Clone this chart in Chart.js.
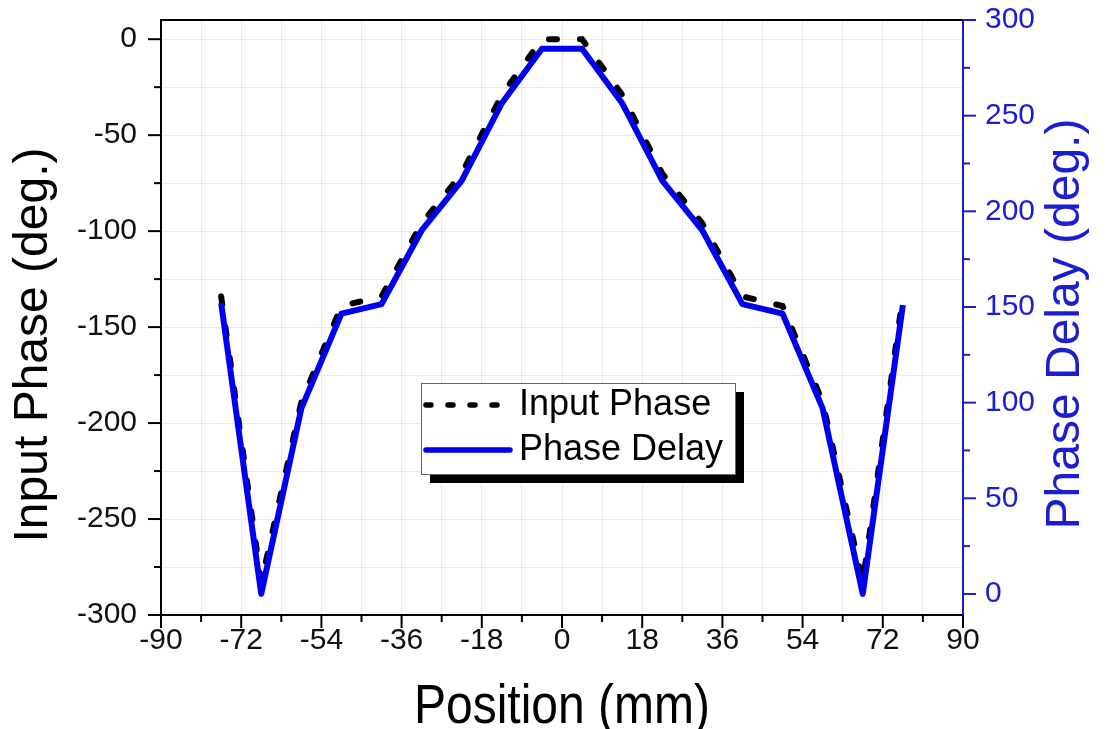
<!DOCTYPE html>
<html>
<head>
<meta charset="utf-8">
<title>Input Phase / Phase Delay</title>
<script src="https://cdn.jsdelivr.net/npm/chart.js@4.4.0/dist/chart.umd.min.js"></script>
<style>
  html, body { margin: 0; padding: 0; background: #fff; }
  #wrap { width: 1109px; height: 729px; }
</style>
</head>
<body>
<div id="wrap"><canvas id="phaseChart" width="1109" height="729"></canvas></div>
<script>
// Element positions across the aperture (mm)
const positions = [-76.5, -67.5, -58.5, -49.5, -40.5, -31.5, -22.5, -13.5, -4.5,
                   4.5, 13.5, 22.5, 31.5, 40.5, 49.5, 58.5, 67.5, 76.5];
// Input phase, left axis (deg.)
const inputPhase = [-134, -283, -189, -139, -134, -96, -70, -29, 0,
                    0, -29, -70, -96, -134, -139, -189, -283, -134];
// Phase delay, right axis (deg.)
const phaseDelay = [152, 0, 97, 146.5, 151.5, 190, 216, 256.5, 285,
                    285, 256.5, 216, 190, 151.5, 146.5, 97, 0, 151];

const xMajorTicks = [-90, -72, -54, -36, -18, 0, 18, 36, 54, 72, 90];
const xMinorTicks = [-81, -63, -45, -27, -9, 9, 27, 45, 63, 81];
const leftMajorTicks = [-300, -250, -200, -150, -100, -50, 0];
const leftMinorTicks = [-275, -225, -175, -125, -75, -25];
const rightMajorTicks = [0, 50, 100, 150, 200, 250, 300];
const rightMinorTicks = [25, 75, 125, 175, 225, 275];

const BLUE = '#0000f0';
const AXIS_BLUE = '#1c1cd2';
const FONT = '"Liberation Sans", Arial, sans-serif';

Chart.defaults.font.family = FONT;

function useTicks(list) {
    return function(scale) {
        scale.ticks = list.slice().sort((a, b) => a - b).map(v => ({ value: v }));
    };
}

// fixed axis width, no extra vertical padding from the labels
function fixWidth(w) {
    return function(scale) {
        scale.width = w;
        scale.paddingTop = 0;
        scale.paddingBottom = 0;
    };
}

function toPoints(values) {
    return positions.map((x, i) => ({ x: x, y: values[i] }));
}

// Tick marks outside the frame (major long, minor short) plus the top frame line
const tickMarks = {
    id: 'tickMarks',
    afterDraw(chart) {
        const { ctx, chartArea, scales } = chart;
        const line = (x1, y1, x2, y2) => {
            ctx.beginPath();
            ctx.moveTo(x1, y1);
            ctx.lineTo(x2, y2);
            ctx.stroke();
        };
        ctx.save();
        ctx.lineWidth = 2;
        ctx.strokeStyle = '#000';
        line(chartArea.left - 1, chartArea.top, chartArea.right, chartArea.top);
        xMajorTicks.forEach(v => {
            const x = scales.x.getPixelForValue(v);
            line(x, chartArea.bottom, x, chartArea.bottom + 13);
        });
        xMinorTicks.forEach(v => {
            const x = scales.x.getPixelForValue(v);
            line(x, chartArea.bottom, x, chartArea.bottom + 7);
        });
        leftMajorTicks.forEach(v => {
            const y = scales.y.getPixelForValue(v);
            line(chartArea.left, y, chartArea.left - 13, y);
        });
        leftMinorTicks.forEach(v => {
            const y = scales.y.getPixelForValue(v);
            line(chartArea.left, y, chartArea.left - 7, y);
        });
        ctx.strokeStyle = AXIS_BLUE;
        rightMajorTicks.forEach(v => {
            const y = scales.y1.getPixelForValue(v);
            line(chartArea.right, y, chartArea.right + 13, y);
        });
        rightMinorTicks.forEach(v => {
            const y = scales.y1.getPixelForValue(v);
            line(chartArea.right, y, chartArea.right + 7, y);
        });
        ctx.restore();
    }
};

// Axis titles (both vertical titles read bottom to top)
const axisTitles = {
    id: 'axisTitles',
    afterDraw(chart) {
        const { ctx, chartArea } = chart;
        ctx.save();
        ctx.font = '48px ' + FONT;
        ctx.textAlign = 'center';
        ctx.textBaseline = 'alphabetic';
        ctx.fillStyle = '#000';

        ctx.save();
        ctx.translate((chartArea.left + chartArea.right) / 2, chartArea.bottom + 108);
        ctx.scale(1, 1.15);
        ctx.fillText('Position (mm)', 0, 0);
        ctx.restore();

        ctx.save();
        ctx.translate(47, 345);
        ctx.rotate(-Math.PI / 2);
        ctx.fillText('Input Phase (deg.)', 0, 0);
        ctx.restore();

        ctx.save();
        ctx.fillStyle = AXIS_BLUE;
        ctx.translate(chartArea.right + 116, 324);
        ctx.rotate(-Math.PI / 2);
        ctx.fillText('Phase Delay (deg.)', 0, 0);
        ctx.restore();
        ctx.restore();
    }
};

// Boxed legend with a drop shadow
const boxLegend = {
    id: 'boxLegend',
    afterDraw(chart) {
        const { ctx } = chart;
        const bx = 421, by = 383, bw = 314, bh = 91, sh = 9;
        ctx.save();
        ctx.fillStyle = '#000';
        ctx.fillRect(bx + sh, by + sh, bw, bh);
        ctx.fillStyle = '#fff';
        ctx.fillRect(bx, by, bw, bh);
        ctx.strokeStyle = '#666';
        ctx.lineWidth = 1;
        ctx.strokeRect(bx + 0.5, by + 0.5, bw, bh);
        chart.data.datasets.forEach((ds, i) => {
            const y = by + 22 + i * 45;
            ctx.beginPath();
            ctx.setLineDash(ds.legendDash || []);
            ctx.lineCap = 'round';
            ctx.lineWidth = 5.5;
            ctx.strokeStyle = ds.borderColor;
            ctx.moveTo(bx + 5, y);
            ctx.lineTo(bx + 89, y);
            ctx.stroke();
            ctx.setLineDash([]);
            ctx.fillStyle = '#000';
            ctx.font = '36px ' + FONT;
            ctx.textAlign = 'left';
            ctx.textBaseline = 'middle';
            ctx.fillText(ds.label, bx + 98, y);
        });
        ctx.restore();
    }
};

new Chart(document.getElementById('phaseChart'), {
    type: 'line',
    data: {
        datasets: [{
            label: 'Input Phase',
            data: toPoints(inputPhase),
            yAxisID: 'y',
            order: 1,
            borderColor: '#000',
            borderWidth: 6,
            borderDash: [8, 23],
            borderCapStyle: 'round',
            legendDash: [5, 17],
            pointRadius: 0,
            tension: 0,
            fill: false
        }, {
            label: 'Phase Delay',
            data: toPoints(phaseDelay),
            yAxisID: 'y1',
            order: 0,
            borderColor: BLUE,
            borderWidth: 6,
            borderJoinStyle: 'round',
            pointRadius: 0,
            tension: 0,
            fill: false
        }]
    },
    options: {
        responsive: false,
        animation: false,
        devicePixelRatio: 1,
        layout: { padding: { top: 20, left: 0, right: 0, bottom: 0 } },
        plugins: {
            legend: { display: false },
            tooltip: { enabled: false }
        },
        scales: {
            x: {
                type: 'linear',
                min: -90,
                max: 90,
                afterBuildTicks: useTicks(xMajorTicks.concat(xMinorTicks)),
                afterFit: s => { s.height = 114; s.paddingLeft = 0; s.paddingRight = 0; },
                grid: { color: '#ebebeb', lineWidth: 1, drawTicks: false },
                border: { color: '#000', width: 2 },
                ticks: {
                    autoSkip: false,
                    maxRotation: 0,
                    padding: 8,
                    color: '#111',
                    font: { size: 30 },
                    callback: v => xMajorTicks.includes(v) ? String(v) : ''
                }
            },
            y: {
                position: 'left',
                min: -300,
                max: 10,
                afterBuildTicks: useTicks(leftMajorTicks.concat(leftMinorTicks)),
                afterFit: fixWidth(161),
                grid: { color: '#ebebeb', lineWidth: 1, drawTicks: false },
                border: { color: '#000', width: 2 },
                ticks: {
                    padding: 24,
                    color: '#111',
                    font: { size: 30 },
                    callback: v => leftMajorTicks.includes(v) ? String(v) : ''
                }
            },
            y1: {
                position: 'right',
                min: -11,
                max: 300,
                afterBuildTicks: useTicks(rightMajorTicks),
                afterFit: fixWidth(146),
                grid: { display: false, drawTicks: false },
                border: { color: AXIS_BLUE, width: 2 },
                ticks: {
                    padding: 22,
                    color: AXIS_BLUE,
                    font: { size: 30 }
                }
            }
        }
    },
    plugins: [tickMarks, axisTitles, boxLegend]
});
</script>
</body>
</html>
